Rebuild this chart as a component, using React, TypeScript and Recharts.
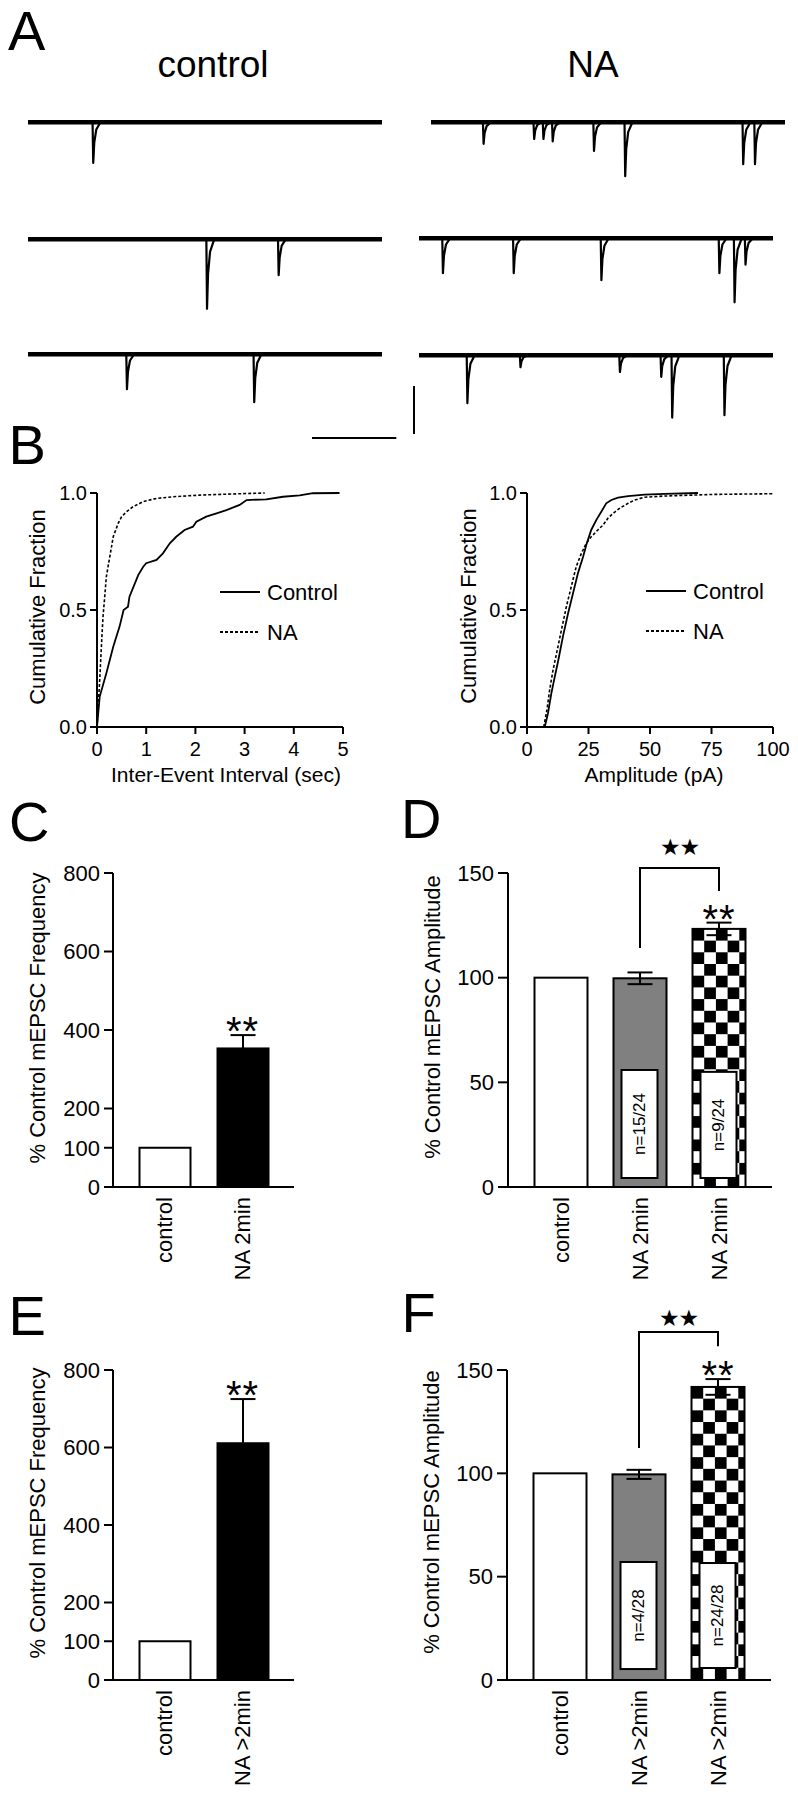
import React from 'react';
import {
  LineChart,
  Line,
  XAxis,
  YAxis,
  BarChart,
  Bar,
  Cell,
  ErrorBar,
  ReferenceLine,
  ReferenceDot,
  Legend,
} from 'recharts';

const FONT = '"Liberation Sans", Arial, Helvetica, sans-serif';
const STAR_FONT = '"DejaVu Sans", sans-serif';

// ---------------- Panel A: sweeps (event onset in s, amplitude in pA) ----------------
const SWEEP_SECONDS = 4.2;
const ctrlSweep1Times = [0.77];
const ctrlSweep1Amps = [17];
const ctrlSweep2Times = [2.12, 2.97];
const ctrlSweep2Amps = [29, 15];
const ctrlSweep3Times = [1.17, 2.68];
const ctrlSweep3Amps = [14.6, 20];
const naSweep1Times = [0.62, 1.22, 1.33, 1.44, 1.93, 2.3, 3.7, 3.84];
const naSweep1Amps = [9, 7, 7, 8, 12, 22.5, 17.5, 17.5];
const naSweep2Times = [0.28, 1.12, 2.16, 3.56, 3.74, 3.87];
const naSweep2Amps = [14.6, 14.6, 17.5, 14.6, 26.7, 11];
const naSweep3Times = [0.57, 1.2, 2.38, 2.87, 3.0, 3.62];
const naSweep3Amps = [20, 5, 7, 9, 26, 25];
const SCALE_BAR_SEC = 1;
const SCALE_BAR_PA = 20;

// mEPSC waveform template (time after onset, fraction of peak)
const SPIKE_T = [-0.004, 0.004, 0.016, 0.04, 0.09];
const SPIKE_V = [0, -1, -0.5, -0.18, 0];

// ---------------- Panel B: cumulative distributions ----------------
const ieiControlSec = [0, 0.055, 0.19, 0.33, 0.46, 0.54, 0.63, 0.66, 0.77, 0.84, 0.94, 1.0, 1.21, 1.34, 1.48, 1.61, 1.78, 1.95, 2.02, 2.22, 2.43, 2.63, 2.9, 3.04, 3.44, 3.78, 4.12, 4.39, 4.93];
const ieiControlFrac = [0, 0.13, 0.23, 0.343, 0.43, 0.5, 0.514, 0.557, 0.614, 0.65, 0.685, 0.7, 0.714, 0.742, 0.785, 0.813, 0.842, 0.856, 0.877, 0.899, 0.913, 0.927, 0.949, 0.97, 0.973, 0.984, 0.99, 0.999, 1.0];
const ieiNaSec = [0, 0.028, 0.055, 0.089, 0.122, 0.157, 0.19, 0.26, 0.33, 0.43, 0.5, 0.6, 0.73, 0.94, 1.21, 1.55, 2.09, 2.77, 3.41];
const ieiNaFrac = [0, 0.1, 0.2, 0.343, 0.471, 0.557, 0.642, 0.728, 0.813, 0.87, 0.899, 0.92, 0.941, 0.963, 0.977, 0.984, 0.991, 0.996, 1.0];
const ampControlPa = [7.2, 8.5, 9.9, 11.3, 12.6, 14.6, 16.7, 18.7, 20.7, 22.8, 24.1, 26.1, 28.2, 30.2, 32.2, 34.3, 37, 41.1, 47.8, 55.9, 69.5];
const ampControlFrac = [0, 0.057, 0.144, 0.215, 0.279, 0.386, 0.486, 0.571, 0.657, 0.728, 0.778, 0.842, 0.885, 0.92, 0.956, 0.97, 0.98, 0.987, 0.993, 0.996, 1.0];
const ampNaPa = [6.8, 8.1, 9.2, 10.6, 12.3, 14, 16, 18, 20, 22.1, 24.1, 26.1, 28.8, 30.9, 32.9, 35, 37.7, 41.1, 43.8, 47.8, 55.9, 66.8, 76.3, 100];
const ampNaFrac = [0, 0.073, 0.158, 0.244, 0.329, 0.415, 0.514, 0.6, 0.685, 0.742, 0.785, 0.813, 0.842, 0.863, 0.892, 0.913, 0.935, 0.956, 0.97, 0.982, 0.987, 0.991, 0.994, 0.997];
const cdfSeriesNames = ['Control', 'NA'];
const ieiTicks = [0, 1, 2, 3, 4, 5];
const ampTicks = [0, 25, 50, 75, 100];
const fracTicks = [0, 0.5, 1];

// ---------------- Panels C-F: bar data ----------------
const freqCKeys = ['control', 'na2'];
const freqCLabels = ['control', 'NA 2min'];
const freqCMean = [100, 353];
const freqCSem = [0, 34];
const freqCSig = ['', '**'];

const ampDKeys = ['control', 'na2', 'na2resp'];
const ampDLabels = ['control', 'NA 2min', 'NA 2min'];
const ampDMean = [100, 99.7, 123.3];
const ampDSem = [0, 2.8, 3];
const ampDSig = ['', '', '**'];
const ampDBoxLow = [null, 4.3, 4.3];
const ampDBoxHigh = [null, 55.9, 55];
const ampDN = ['', 'n=15/24', 'n=9/24'];
const ampDBracketEnds = ['na2', 'na2resp'];
const ampDBracketLevels = [114.7, 152.4, 141.9];
const ampDBracketSig = '★★';

const freqEKeys = ['control', 'na2plus'];
const freqELabels = ['control', 'NA >2min'];
const freqEMean = [100, 611];
const freqESem = [0, 114];
const freqESig = ['', '**'];

const ampFKeys = ['control', 'na2plus', 'na2plusresp'];
const ampFLabels = ['control', 'NA >2min', 'NA >2min'];
const ampFMean = [100, 99.5, 141.8];
const ampFSem = [0, 2.2, 3.8];
const ampFSig = ['', '', '**'];
const ampFBoxLow = [null, 5.3, 5.8];
const ampFBoxHigh = [null, 57.1, 56.6];
const ampFN = ['', 'n=4/28', 'n=24/28'];
const ampFBracketEnds = ['na2plus', 'na2plusresp'];
const ampFBracketLevels = [112.7, 168.4, 162];
const ampFBracketSig = '★★';

const freqTicks = [0, 100, 200, 400, 600, 800];
const ampTicksBar = [0, 50, 100, 150];

// ---------------- styles ----------------
const GRAY = '#808080';
const CHECKER = 'checker';
const CHECK = 11.7;
const FREQ_FILLS = ['#ffffff', '#000000'];
const AMP_FILLS = ['#ffffff', GRAY, CHECKER];
const AXIS = { stroke: '#000', strokeWidth: 2 };

// ---------------- helpers ----------------
function spikeAt(dt: number): number {
  if (dt <= SPIKE_T[0] || dt >= SPIKE_T[SPIKE_T.length - 1]) return 0;
  for (let k = 1; k < SPIKE_T.length; k++) {
    if (dt <= SPIKE_T[k]) {
      const f = (dt - SPIKE_T[k - 1]) / (SPIKE_T[k] - SPIKE_T[k - 1]);
      return SPIKE_V[k - 1] + f * (SPIKE_V[k] - SPIKE_V[k - 1]);
    }
  }
  return 0;
}

function buildSweep(times: number[], amps: number[]) {
  const pts = new Set<number>([0, SWEEP_SECONDS]);
  times.forEach((t0) => SPIKE_T.forEach((dt) => pts.add(Math.round((t0 + dt) * 100000) / 100000)));
  const ts = Array.from(pts)
    .filter((t) => t >= 0 && t <= SWEEP_SECONDS)
    .sort((a, b) => a - b);
  return ts.map((t) => ({ t, v: times.reduce((s, t0, i) => s + amps[i] * spikeAt(t - t0), 0) }));
}

const TRACE_W = 354;
const TRACE_PAD = 4;
const TRACE_YMIN = -32;
const TRACE_YMAX = 3;
const PX_PER_PA = 2.4;
const TRACE_PLOT_H = (TRACE_YMAX - TRACE_YMIN) * PX_PER_PA;
const PX_PER_SEC = TRACE_W / SWEEP_SECONDS;

function sweep(key: string, left: number, baseline: number, times: number[], amps: number[]) {
  const data = buildSweep(times, amps);
  const top = baseline - TRACE_PAD - TRACE_YMAX * PX_PER_PA;
  return (
    <div key={key} style={{ position: 'absolute', left: left - TRACE_PAD, top }}>
      <LineChart
        width={TRACE_W + 2 * TRACE_PAD}
        height={TRACE_PLOT_H + 2 * TRACE_PAD}
        data={data}
        margin={{ top: TRACE_PAD, right: TRACE_PAD, bottom: TRACE_PAD, left: TRACE_PAD }}
      >
        <XAxis dataKey="t" type="number" domain={[0, SWEEP_SECONDS]} hide />
        <YAxis type="number" domain={[TRACE_YMIN, TRACE_YMAX]} hide />
        <ReferenceLine y={0} stroke="#000" strokeWidth={4.5} />
        <Line
          dataKey="v"
          type="linear"
          stroke="#000"
          strokeWidth={2.2}
          strokeLinejoin="round"
          dot={false}
          activeDot={false}
          isAnimationActive={false}
        />
      </LineChart>
    </div>
  );
}

const LEGEND_DASH = [undefined, '3 2'];
const renderCdfLegend = (props: any) => {
  const payload = (props && props.payload) || [];
  return (
    <svg width={150} height={60} style={{ overflow: 'visible' }}>
      {payload.map((entry: any, i: number) => (
        <g key={String(entry.value)}>
          <line x1={0} x2={40} y1={12 + i * 40} y2={12 + i * 40} stroke="#000" strokeWidth={1.8} strokeDasharray={LEGEND_DASH[i]} />
          <text x={47} y={12 + i * 40 + 8} fontSize={22} fontFamily={FONT} fill="#000">
            {entry.value}
          </text>
        </g>
      ))}
    </svg>
  );
};

function cdfChart(
  key: string,
  left: number,
  yWidth: number,
  rightMargin: number,
  width: number,
  xDomain: [number, number],
  xTicks: number[],
  ctrlX: number[],
  ctrlY: number[],
  naX: number[],
  naY: number[],
  legendLeft: number,
  legendTop: number
) {
  const ctrl = ctrlX.map((x, i) => ({ x, y: ctrlY[i] }));
  const na = naX.map((x, i) => ({ x, y: naY[i] }));
  return (
    <div key={key} style={{ position: 'absolute', left, top: 460 }}>
      <LineChart width={width} height={340} margin={{ top: 33, right: rightMargin, left: 0, bottom: 0 }}>
        <XAxis
          dataKey="x"
          type="number"
          domain={xDomain}
          ticks={xTicks}
          interval={0}
          height={73}
          tickSize={7}
          tickMargin={8}
          axisLine={AXIS}
          tickLine={AXIS}
          tick={{ fill: '#000', fontSize: 20, fontFamily: FONT }}
        />
        <YAxis
          type="number"
          domain={[0, 1]}
          ticks={fracTicks}
          interval={0}
          width={yWidth}
          tickSize={7}
          tickMargin={3}
          axisLine={AXIS}
          tickLine={AXIS}
          tickFormatter={(v: number) => v.toFixed(1)}
          tick={{ fill: '#000', fontSize: 20, fontFamily: FONT }}
        />
        <Legend
          layout="vertical"
          align="center"
          verticalAlign="middle"
          content={renderCdfLegend}
          wrapperStyle={{ left: legendLeft, top: legendTop, width: 150 }}
        />
        <Line
          data={ctrl}
          dataKey="y"
          name={cdfSeriesNames[0]}
          type="linear"
          stroke="#000"
          strokeWidth={1.8}
          dot={false}
          activeDot={false}
          isAnimationActive={false}
        />
        <Line
          data={na}
          dataKey="y"
          name={cdfSeriesNames[1]}
          type="linear"
          stroke="#000"
          strokeWidth={1.6}
          strokeDasharray="3 2"
          dot={false}
          activeDot={false}
          isAnimationActive={false}
        />
      </LineChart>
    </div>
  );
}

function makeBarShape(patternId: string) {
  return (props: any) => {
    const { x, y, width, height, fill, payload } = props;
    if (![x, y, width, height].every((v) => Number.isFinite(v))) return <g />;
    const base = y + height;
    const ppu = payload && payload.mean ? height / payload.mean : 0;
    const checker = fill === CHECKER;
    const hasBox = payload && payload.boxHigh != null;
    const boxX = x + 8;
    const boxW = width - 17;
    const yTop = hasBox ? base - payload.boxHigh * ppu : 0;
    const yBot = hasBox ? base - payload.boxLow * ppu : 0;
    const cx = boxX + boxW / 2;
    const cy = (yTop + yBot) / 2;
    return (
      <g>
        {checker && (
          <defs>
            <pattern id={patternId} x={x} y={y} width={CHECK * 2} height={CHECK * 2} patternUnits="userSpaceOnUse">
              <rect width={CHECK * 2} height={CHECK * 2} fill="#fff" />
              <rect width={CHECK} height={CHECK} fill="#000" />
              <rect x={CHECK} y={CHECK} width={CHECK} height={CHECK} fill="#000" />
            </pattern>
          </defs>
        )}
        <rect x={x} y={y} width={width} height={height} fill={checker ? `url(#${patternId})` : fill} stroke="#000" strokeWidth={2} />
        {hasBox && (
          <g>
            <rect x={boxX} y={yTop} width={boxW} height={yBot - yTop} fill="#fff" stroke="#000" strokeWidth={2} />
            <text
              x={cx}
              y={cy}
              transform={`rotate(-90 ${cx} ${cy})`}
              textAnchor="middle"
              dominantBaseline="central"
              fontSize={17}
              fontFamily={FONT}
              fill="#000"
            >
              {payload.n}
            </text>
          </g>
        )}
      </g>
    );
  };
}

function makeCatTick(labels: Record<string, string>) {
  return (props: any) => {
    const { x, y, payload } = props;
    const ty = y + 10;
    return (
      <text
        x={x}
        y={ty}
        transform={`rotate(-90 ${x} ${ty})`}
        textAnchor="end"
        dy="0.35em"
        fontSize={22}
        fontFamily={FONT}
        fill="#000"
      >
        {labels[payload.value]}
      </text>
    );
  };
}

const sigShape = (p: any) => (
  <text x={p.cx} y={p.cy + 10} textAnchor="middle" fontSize={40} fontFamily={FONT} fill="#000" letterSpacing={1}>
    **
  </text>
);

function makeBracketTop(stars: string, gap: number) {
  return (p: any) => (
    <g>
      <line x1={p.x1} y1={p.y1} x2={p.x2} y2={p.y2} stroke="#000" strokeWidth={2} strokeLinecap="square" />
      <text
        x={(p.x1 + p.x2) / 2}
        y={p.y1 - gap}
        textAnchor="middle"
        dominantBaseline="central"
        fontSize={23}
        fontFamily={STAR_FONT}
        fill="#000"
        letterSpacing={-1}
      >
        {stars}
      </text>
    </g>
  );
}

type BarCfg = {
  id: string;
  left: number;
  top: number;
  width: number;
  height: number;
  marginTop: number;
  marginRight: number;
  yWidth: number;
  xHeight: number;
  pad: number;
  barSize: number;
  keys: string[];
  labels: string[];
  mean: number[];
  sem: number[];
  sig: string[];
  fills: string[];
  yDomain: [number, number];
  yTicks: number[];
  tickSize: number;
  boxLow?: (number | null)[];
  boxHigh?: (number | null)[];
  n?: string[];
  bracketEnds?: string[];
  bracketLevels?: number[];
  bracketSig?: string;
  starGap?: number;
};

function barPanel(cfg: BarCfg) {
  const data = cfg.keys.map((key, i) => ({
    key,
    mean: cfg.mean[i],
    sem: cfg.sem[i],
    boxLow: cfg.boxLow ? cfg.boxLow[i] : null,
    boxHigh: cfg.boxHigh ? cfg.boxHigh[i] : null,
    n: cfg.n ? cfg.n[i] : '',
  }));
  const labels: Record<string, string> = {};
  cfg.keys.forEach((k, i) => (labels[k] = cfg.labels[i]));
  const ends = cfg.bracketEnds;
  const lv = cfg.bracketLevels;
  return (
    <div key={cfg.id} style={{ position: 'absolute', left: cfg.left, top: cfg.top }}>
      <BarChart
        width={cfg.width}
        height={cfg.height}
        data={data}
        margin={{ top: cfg.marginTop, right: cfg.marginRight, left: 0, bottom: 0 }}
      >
        <XAxis
          dataKey="key"
          type="category"
          height={cfg.xHeight}
          padding={{ left: cfg.pad, right: cfg.pad }}
          tickLine={false}
          tickSize={0}
          tickMargin={0}
          interval={0}
          axisLine={AXIS}
          tick={makeCatTick(labels)}
        />
        <YAxis
          type="number"
          domain={cfg.yDomain}
          ticks={cfg.yTicks}
          interval={0}
          allowDataOverflow
          width={cfg.yWidth}
          tickSize={cfg.tickSize}
          tickMargin={4}
          axisLine={AXIS}
          tickLine={AXIS}
          tick={{ fill: '#000', fontSize: 22, fontFamily: FONT }}
        />
        <Bar dataKey="mean" barSize={cfg.barSize} isAnimationActive={false} shape={makeBarShape(`check-${cfg.id}`)}>
          {data.map((d, i) => (
            <Cell key={d.key} fill={cfg.fills[i]} />
          ))}
          <ErrorBar dataKey="sem" width={12.5} stroke="#000" strokeWidth={2} direction="y" />
        </Bar>
        {data.map((d, i) =>
          cfg.sig[i] ? (
            <ReferenceDot key={`sig-${d.key}`} x={d.key} y={d.mean + d.sem} r={0} ifOverflow="visible" shape={sigShape} />
          ) : null
        )}
        {ends && lv && (
          <ReferenceLine
            segment={[
              { x: ends[0], y: lv[0] },
              { x: ends[0], y: lv[1] },
            ]}
            stroke="#000"
            strokeWidth={2}
            strokeLinecap="square"
            ifOverflow="visible"
          />
        )}
        {ends && lv && (
          <ReferenceLine
            segment={[
              { x: ends[0], y: lv[1] },
              { x: ends[1], y: lv[1] },
            ]}
            stroke="#000"
            strokeWidth={2}
            ifOverflow="visible"
            shape={makeBracketTop(cfg.bracketSig || '', cfg.starGap || 14)}
          />
        )}
        {ends && lv && (
          <ReferenceLine
            segment={[
              { x: ends[1], y: lv[1] },
              { x: ends[1], y: lv[2] },
            ]}
            stroke="#000"
            strokeWidth={2}
            strokeLinecap="square"
            ifOverflow="visible"
          />
        )}
      </BarChart>
    </div>
  );
}

function rotText(key: string, text: string, x: number, y: number, size: number) {
  return (
    <text
      key={key}
      x={x}
      y={y}
      transform={`rotate(-90 ${x} ${y})`}
      textAnchor="middle"
      dominantBaseline="central"
      fontSize={size}
      fill="#000"
    >
      {text}
    </text>
  );
}

export default function App() {
  return (
    <div style={{ position: 'absolute', left: 0, top: 0, width: 798, height: 1800, background: '#fff', fontFamily: FONT }}>
      {/* Panel A sweeps */}
      {sweep('c1', 28, 122, ctrlSweep1Times, ctrlSweep1Amps)}
      {sweep('c2', 28, 239, ctrlSweep2Times, ctrlSweep2Amps)}
      {sweep('c3', 28, 354, ctrlSweep3Times, ctrlSweep3Amps)}
      {sweep('n1', 431, 122, naSweep1Times, naSweep1Amps)}
      {sweep('n2', 419, 238, naSweep2Times, naSweep2Amps)}
      {sweep('n3', 419, 355, naSweep3Times, naSweep3Amps)}

      {/* Panel B */}
      {cdfChart('b1', 0, 97, 37, 380, [0, 5], ieiTicks, ieiControlSec, ieiControlFrac, ieiNaSec, ieiNaFrac, 220, 120)}
      {cdfChart('b2', 400, 127, 25, 398, [0, 100], ampTicks, ampControlPa, ampControlFrac, ampNaPa, ampNaFrac, 246, 119)}

      {/* Panels C-F */}
      {barPanel({
        id: 'C', left: 0, top: 850, width: 320, height: 430, marginTop: 23, marginRight: 26, yWidth: 113, xHeight: 93,
        pad: 12.5, barSize: 51, keys: freqCKeys, labels: freqCLabels, mean: freqCMean, sem: freqCSem, sig: freqCSig,
        fills: FREQ_FILLS, yDomain: [0, 800], yTicks: freqTicks, tickSize: 9,
      })}
      {barPanel({
        id: 'D', left: 400, top: 820, width: 398, height: 460, marginTop: 53, marginRight: 26, yWidth: 108, xHeight: 93,
        pad: 13.5, barSize: 53, keys: ampDKeys, labels: ampDLabels, mean: ampDMean, sem: ampDSem, sig: ampDSig,
        fills: AMP_FILLS, yDomain: [0, 150], yTicks: ampTicksBar, tickSize: 10,
        boxLow: ampDBoxLow, boxHigh: ampDBoxHigh, n: ampDN,
        bracketEnds: ampDBracketEnds, bracketLevels: ampDBracketLevels, bracketSig: ampDBracketSig, starGap: 21,
      })}
      {barPanel({
        id: 'E', left: 0, top: 1340, width: 320, height: 460, marginTop: 30, marginRight: 26, yWidth: 113, xHeight: 120,
        pad: 12.5, barSize: 51, keys: freqEKeys, labels: freqELabels, mean: freqEMean, sem: freqESem, sig: freqESig,
        fills: FREQ_FILLS, yDomain: [0, 800], yTicks: freqTicks, tickSize: 9,
      })}
      {barPanel({
        id: 'F', left: 400, top: 1290, width: 398, height: 510, marginTop: 80, marginRight: 27, yWidth: 107, xHeight: 120,
        pad: 13.5, barSize: 53, keys: ampFKeys, labels: ampFLabels, mean: ampFMean, sem: ampFSem, sig: ampFSig,
        fills: AMP_FILLS, yDomain: [0, 150], yTicks: ampTicksBar, tickSize: 10,
        boxLow: ampFBoxLow, boxHigh: ampFBoxHigh, n: ampFN,
        bracketEnds: ampFBracketEnds, bracketLevels: ampFBracketLevels, bracketSig: ampFBracketSig, starGap: 14,
      })}

      {/* Overlay: panel letters, headings, axis titles, scale bars */}
      <svg
        width={798}
        height={1800}
        style={{ position: 'absolute', left: 0, top: 0, pointerEvents: 'none' }}
        fontFamily={FONT}
      >
        <g fontSize={56} fill="#000">
          <text x={8} y={50}>A</text>
          <text x={8.5} y={464}>B</text>
          <text x={9} y={841}>C</text>
          <text x={401} y={838}>D</text>
          <text x={8.5} y={1335}>E</text>
          <text x={401.5} y={1332}>F</text>
        </g>
        <text x={213} y={77} fontSize={37} textAnchor="middle" fill="#000">control</text>
        <text x={593} y={77} fontSize={37} textAnchor="middle" fill="#000">NA</text>

        {/* scale bars */}
        <line x1={312} x2={312 + SCALE_BAR_SEC * PX_PER_SEC} y1={438} y2={438} stroke="#000" strokeWidth={2} />
        <line x1={414} x2={414} y1={386} y2={386 + SCALE_BAR_PA * PX_PER_PA} stroke="#000" strokeWidth={2} />

        {/* Panel B titles */}
        <text x={226} y={782} fontSize={21} textAnchor="middle" fill="#000">Inter-Event Interval (sec)</text>
        <text x={654} y={782} fontSize={21} textAnchor="middle" fill="#000">Amplitude (pA)</text>
        {rotText('by1', 'Cumulative Fraction', 37, 607, 22)}
        {rotText('by2', 'Cumulative Fraction', 468, 606, 22)}

        {/* Panels C-F y titles */}
        {rotText('cy', '% Control mEPSC Frequency', 37, 1018, 22)}
        {rotText('dy', '% Control mEPSC Amplitude', 432, 1017, 22)}
        {rotText('ey', '% Control mEPSC Frequency', 37, 1513, 22)}
        {rotText('fy', '% Control mEPSC Amplitude', 431, 1512, 22)}
      </svg>
    </div>
  );
}
